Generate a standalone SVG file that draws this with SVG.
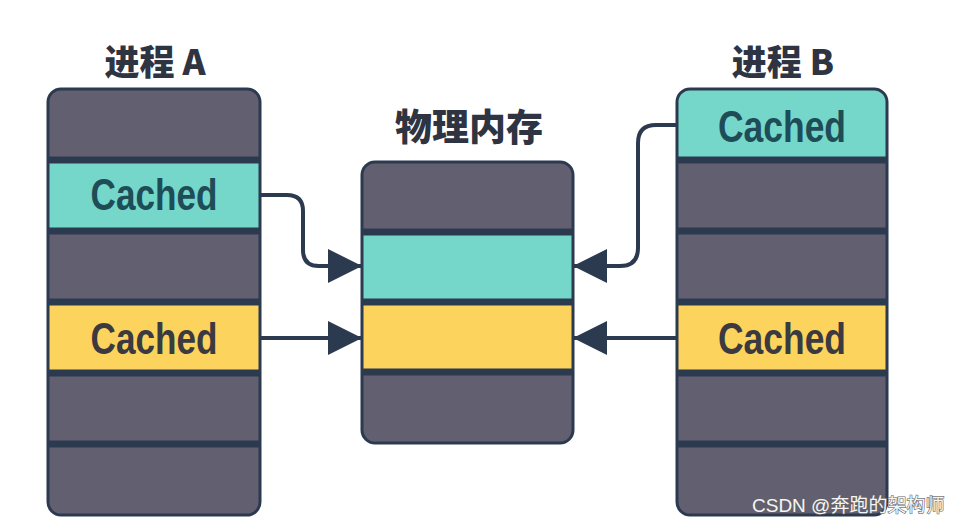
<svg xmlns="http://www.w3.org/2000/svg" width="959" height="526" viewBox="0 0 959 526">
  <style>
    .gray { fill: #625f70; }
    .teal { fill: #74d7ca; }
    .yellow { fill: #fcd35c; }
    .div { stroke: #2c3a50; stroke-width: 7; }
    .border { fill: none; stroke: #2c3a50; stroke-width: 3; }
    .title { font-family: "Noto Sans CJK SC", "Liberation Sans", sans-serif; font-weight: 900; font-size: 35px; fill: #2e3442; text-anchor: middle; }
    .cached { font-family: "Liberation Sans", "DejaVu Sans", sans-serif; font-weight: bold; font-size: 44px; text-anchor: middle; }
    .ct { fill: #1e4c57; }
    .cy { fill: #3a3a40; }
    .conn { fill: none; stroke: #2c3a50; stroke-width: 4; }
    .wm { font-family: "Liberation Sans", "Noto Sans CJK SC", sans-serif; font-size: 19px; fill: #f4f4f4; stroke: #666; stroke-width: 1.2; paint-order: stroke; }
  </style>
  <defs>
    <clipPath id="clipA"><rect x="48" y="89" width="212" height="426" rx="13"/></clipPath>
    <clipPath id="clipB"><rect x="677" y="89" width="210" height="426" rx="13"/></clipPath>
    <clipPath id="clipM"><rect x="362" y="162" width="211" height="281" rx="13"/></clipPath>
    <marker id="arrow" markerUnits="userSpaceOnUse" markerWidth="34" markerHeight="34" refX="34" refY="17" orient="auto">
      <path d="M0,0 L34,17 L0,34 Z" fill="#2c3a50"/>
    </marker>
  </defs>

  <rect x="0" y="0" width="959" height="526" fill="#ffffff"/>

  <g id="processA">
    <text class="title" x="155" y="75">进程 A</text>
    <g clip-path="url(#clipA)">
      <rect class="gray" x="48" y="89" width="212" height="426"/>
      <rect class="teal" x="48" y="160" width="212" height="71"/>
      <rect class="yellow" x="48" y="302" width="212" height="71"/>
      <line class="div" x1="48" y1="160" x2="260" y2="160"/>
      <line class="div" x1="48" y1="231" x2="260" y2="231"/>
      <line class="div" x1="48" y1="302" x2="260" y2="302"/>
      <line class="div" x1="48" y1="373" x2="260" y2="373"/>
      <line class="div" x1="48" y1="444" x2="260" y2="444"/>
    </g>
    <rect class="border" x="48" y="89" width="212" height="426" rx="13"/>
    <text class="cached ct" x="154" y="210" textLength="127" lengthAdjust="spacingAndGlyphs">Cached</text>
    <text class="cached cy" x="154" y="354" textLength="127" lengthAdjust="spacingAndGlyphs">Cached</text>
  </g>

  <g id="memory">
    <text class="title" x="469" y="141" style="font-size:37px">物理内存</text>
    <g clip-path="url(#clipM)">
      <rect class="gray" x="362" y="162" width="211" height="281"/>
      <rect class="teal" x="362" y="232" width="211" height="70"/>
      <rect class="yellow" x="362" y="302" width="211" height="70"/>
      <line class="div" x1="362" y1="232" x2="573" y2="232"/>
      <line class="div" x1="362" y1="302" x2="573" y2="302"/>
      <line class="div" x1="362" y1="372" x2="573" y2="372"/>
    </g>
    <rect class="border" x="362" y="162" width="211" height="281" rx="13"/>
  </g>

  <g id="processB">
    <text class="title" x="783" y="75">进程 B</text>
    <g clip-path="url(#clipB)">
      <rect class="gray" x="677" y="89" width="210" height="426"/>
      <rect class="teal" x="677" y="89" width="210" height="71"/>
      <rect class="yellow" x="677" y="302" width="210" height="71"/>
      <line class="div" x1="677" y1="160" x2="887" y2="160"/>
      <line class="div" x1="677" y1="231" x2="887" y2="231"/>
      <line class="div" x1="677" y1="302" x2="887" y2="302"/>
      <line class="div" x1="677" y1="373" x2="887" y2="373"/>
      <line class="div" x1="677" y1="444" x2="887" y2="444"/>
    </g>
    <rect class="border" x="677" y="89" width="210" height="426" rx="13"/>
    <text class="cached ct" x="782" y="142" textLength="128" lengthAdjust="spacingAndGlyphs">Cached</text>
    <text class="cached cy" x="782" y="354" textLength="128" lengthAdjust="spacingAndGlyphs">Cached</text>
  </g>

  <g id="connectors">
    <path class="conn" d="M260,195 H287 Q303,195 303,211 V250 Q303,266 319,266 H362" marker-end="url(#arrow)"/>
    <path class="conn" d="M260,338 H362" marker-end="url(#arrow)"/>
    <path class="conn" d="M677,125 H656 Q638,125 638,143 V248 Q638,266 620,266 H573" marker-end="url(#arrow)"/>
    <path class="conn" d="M677,338 H573" marker-end="url(#arrow)"/>
  </g>

  <text class="wm" x="752" y="512">CSDN @奔跑的架构师</text>
</svg>
